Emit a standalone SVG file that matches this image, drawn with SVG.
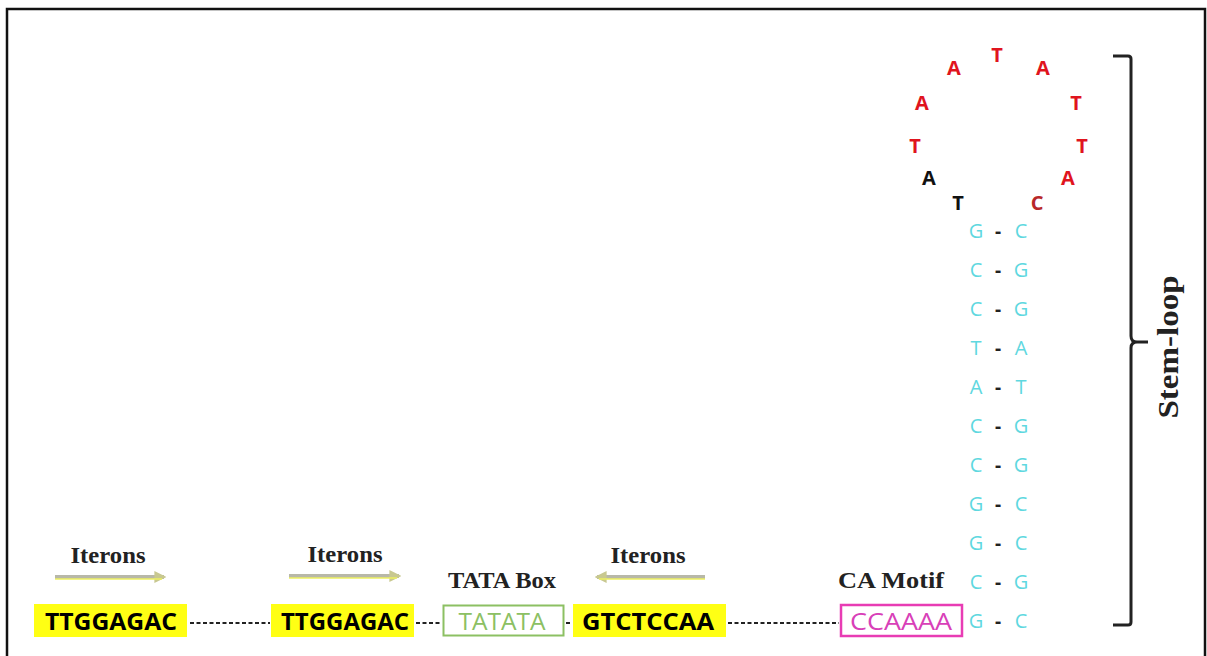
<svg xmlns="http://www.w3.org/2000/svg" width="1207" height="656" viewBox="0 0 1207 656">
<style>
.seq{font-family:"Open Sans","Liberation Sans",sans-serif;font-weight:bold;font-size:24px;text-anchor:middle}
.lbl{font-family:"Liberation Serif",serif;font-weight:bold;font-size:23px;text-anchor:middle;fill:#222}
.loop{font-family:"Open Sans","Liberation Sans",sans-serif;font-weight:bold;font-size:20px;text-anchor:middle;fill:#e0141e}
.stem{font-family:"Open Sans","Liberation Sans",sans-serif;font-size:20px;text-anchor:middle;fill:#5fd8e0}
.pd{font-family:"Open Sans","Liberation Sans",sans-serif;font-weight:bold;font-size:19px;text-anchor:middle;fill:#222}
.dash{stroke:#222;stroke-width:2;stroke-dasharray:4 2.5}
.arr{stroke:#b8b8a8;stroke-width:4;fill:none}
</style>
<defs>
<marker id="ah" viewBox="0 0 10 10" refX="8" refY="5" markerWidth="3" markerHeight="3" orient="auto-start-reverse">
<path d="M0,0 L10,5 L0,10 z" fill="#c8c890"/>
</marker>
</defs>
<rect x="7" y="9" width="1198" height="660" fill="#fff" stroke="#111" stroke-width="2.5"/>

<g id="connectors">
<line class="dash" x1="190" y1="623" x2="270" y2="623"/>
<line class="dash" x1="416" y1="623" x2="442" y2="623"/>
<line class="dash" x1="566" y1="623" x2="572" y2="623"/>
<line class="dash" x1="728" y1="623" x2="839" y2="623"/>
<line class="arr" x1="55" y1="577" x2="164" y2="577" marker-end="url(#ah)"/>
<line x1="55" y1="579" x2="162" y2="579" stroke="#eef060" stroke-width="1.5"/>
<line class="arr" x1="289" y1="576" x2="399" y2="576" marker-end="url(#ah)"/>
<line x1="289" y1="578" x2="397" y2="578" stroke="#eef060" stroke-width="1.5"/>
<line class="arr" x1="597" y1="577" x2="705" y2="577" marker-start="url(#ah)"/>
<line x1="599" y1="579" x2="705" y2="579" stroke="#eef060" stroke-width="1.5"/>
</g>

<g id="iteron1">
<text class="lbl" x="108" y="563" textLength="75" lengthAdjust="spacingAndGlyphs">Iterons</text>
<rect x="34" y="604" width="153" height="33" fill="#ffff14"/>
<text class="seq" x="111" y="630" textLength="132" lengthAdjust="spacingAndGlyphs">TTGGAGAC</text>
</g>
<g id="iteron2">
<text class="lbl" x="345" y="562" textLength="75" lengthAdjust="spacingAndGlyphs">Iterons</text>
<rect x="271" y="604" width="143" height="33" fill="#ffff14"/>
<text class="seq" x="345" y="630" textLength="128" lengthAdjust="spacingAndGlyphs">TTGGAGAC</text>
</g>
<g id="tatabox">
<text class="lbl" x="502" y="588" textLength="108" lengthAdjust="spacingAndGlyphs">TATA Box</text>
<rect x="443.5" y="605.5" width="120" height="30" fill="#fff" stroke="#8cc063" stroke-width="2"/>
<text class="seq" x="502" y="630" textLength="87" lengthAdjust="spacingAndGlyphs" style="font-weight:normal;fill:#8cc063">TATATA</text>
</g>
<g id="iteron3">
<text class="lbl" x="648" y="563" textLength="75" lengthAdjust="spacingAndGlyphs">Iterons</text>
<rect x="573" y="604" width="153" height="33" fill="#ffff14"/>
<text class="seq" x="648" y="630" textLength="132" lengthAdjust="spacingAndGlyphs">GTCTCCAA</text>
</g>
<g id="camotif">
<text class="lbl" x="891" y="588" textLength="106" lengthAdjust="spacingAndGlyphs">CA Motif</text>
<rect x="841" y="605" width="121" height="31" fill="#fff" stroke="#e83cb4" stroke-width="2.5"/>
<text class="seq" x="901" y="630" textLength="102" lengthAdjust="spacingAndGlyphs" style="font-weight:normal;fill:#d840b8">CCAAAA</text>
</g>

<g id="loop">
<text class="loop" x="997" y="62">T</text>
<text class="loop" x="954" y="75">A</text>
<text class="loop" x="1043" y="75">A</text>
<text class="loop" x="922" y="110">A</text>
<text class="loop" x="1076" y="110">T</text>
<text class="loop" x="915" y="153">T</text>
<text class="loop" x="1082" y="153">T</text>
<text class="loop" x="929" y="185" style="fill:#111">A</text>
<text class="loop" x="1068" y="185">A</text>
<text class="loop" x="958" y="210" style="fill:#111">T</text>
<text class="loop" x="1037" y="210" style="fill:#b8282a">C</text>
</g>

<g id="stem">
<text class="stem" x="976" y="238">G</text><text class="pd" x="998" y="238">-</text><text class="stem" x="1021" y="238">C</text>
<text class="stem" x="976" y="277">C</text><text class="pd" x="998" y="277">-</text><text class="stem" x="1021" y="277">G</text>
<text class="stem" x="976" y="316">C</text><text class="pd" x="998" y="316">-</text><text class="stem" x="1021" y="316">G</text>
<text class="stem" x="976" y="355">T</text><text class="pd" x="998" y="355">-</text><text class="stem" x="1021" y="355">A</text>
<text class="stem" x="976" y="394">A</text><text class="pd" x="998" y="394">-</text><text class="stem" x="1021" y="394">T</text>
<text class="stem" x="976" y="433">C</text><text class="pd" x="998" y="433">-</text><text class="stem" x="1021" y="433">G</text>
<text class="stem" x="976" y="472">C</text><text class="pd" x="998" y="472">-</text><text class="stem" x="1021" y="472">G</text>
<text class="stem" x="976" y="511">G</text><text class="pd" x="998" y="511">-</text><text class="stem" x="1021" y="511">C</text>
<text class="stem" x="976" y="550">G</text><text class="pd" x="998" y="550">-</text><text class="stem" x="1021" y="550">C</text>
<text class="stem" x="976" y="589">C</text><text class="pd" x="998" y="589">-</text><text class="stem" x="1021" y="589">G</text>
<text class="stem" x="976" y="628">G</text><text class="pd" x="998" y="628">-</text><text class="stem" x="1021" y="628">C</text>
</g>

<g id="bracket">
<path d="M1113,56 L1128,56 Q1131,56 1131,59 L1131,336 Q1131,342 1137,342 L1148,342 M1137,342 Q1131,342 1131,348 L1131,622 Q1131,625 1128,625 L1113,625" fill="none" stroke="#222" stroke-width="3"/>
<text x="1178" y="347" transform="rotate(-90 1178 347)" textLength="143" lengthAdjust="spacingAndGlyphs" style="font-family:'Liberation Serif',serif;font-weight:bold;font-size:29px;text-anchor:middle;fill:#222">Stem-loop</text>
</g>
</svg>
